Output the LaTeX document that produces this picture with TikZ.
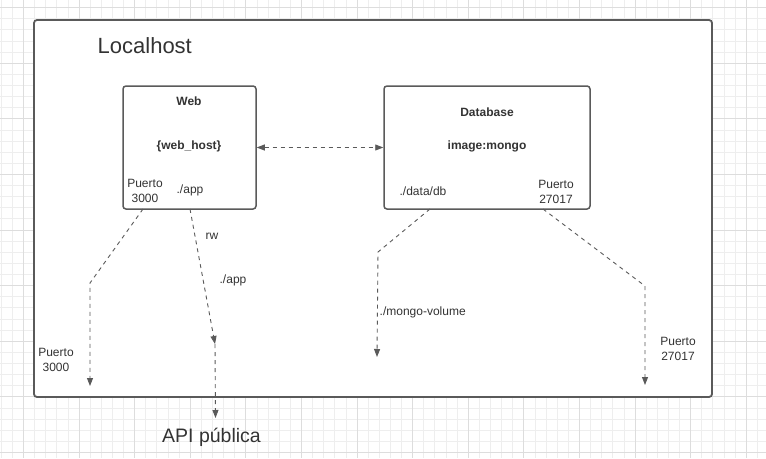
\documentclass[tikz,border=0pt]{standalone}
\usepackage{fontspec}
\setmainfont{Liberation Sans}
\usetikzlibrary{arrows.meta}
\definecolor{linegray}{HTML}{5A5A5A}
\definecolor{textgray}{HTML}{333333}
\definecolor{gridminor}{HTML}{EEEEEE}
\definecolor{gridmajor}{HTML}{DDDDDD}
\begin{document}
\begin{tikzpicture}
[x=1pt,y=-1pt,
 boxdecorate/.style={shape=rectangle,draw=linegray,fill=white,line width=1.5pt,rounded corners=3pt,inner sep=0pt},%
 linedecorate/.style={draw=linegray,line width=0.9pt,dash pattern=on 4pt off 4pt},%
 arrowdecorate/.style={linedecorate,-{Triangle[length=8pt,width=6pt]}},%
 labeldecorate/.style={text=textgray,font=\fontsize{12}{15}\selectfont,align=center,inner sep=0pt},%
 titledecorate/.style={labeldecorate,font=\fontsize{12}{15}\selectfont\bfseries}]
\useasboundingbox (0,0) rectangle (766,458);
%%% background grid
\foreach \i in {0,...,68} \draw[gridminor,line width=0.8pt] ({1.2+\i*11.12},0) -- ({1.2+\i*11.12},458);
\foreach \j in {0,...,40} \draw[gridminor,line width=0.8pt] (0,{7.6+\j*11.12}) -- (766,{7.6+\j*11.12});
\foreach \i in {2,7,...,67} \draw[gridmajor,line width=0.8pt] ({1.2+\i*11.12},0) -- ({1.2+\i*11.12},458);
\foreach \j in {0,5,...,40} \draw[gridmajor,line width=0.8pt] (0,{7.6+\j*11.12}) -- (766,{7.6+\j*11.12});
%
%%% containers
% nodes or boxes
\node (localhost) at (373,208.5) [boxdecorate,line width=1.8pt,minimum width=678pt,minimum height=377pt] {};
\node (title) at (97.5,53.3) [labeldecorate,anchor=base west,font=\fontsize{22}{26}\selectfont] {Localhost};
\node (web) at (189.5,147.5) [boxdecorate,minimum width=133pt,minimum height=123pt] {};
\node (db) at (487,147.5) [boxdecorate,minimum width=206pt,minimum height=123pt] {};
% texts inside the boxes
\node (webname) at (189,101) [titledecorate] {Web};
\node (webhost) at (189,146) [titledecorate] {\{web\_host\}};
\node (webport) at (145,191) [labeldecorate] {Puerto\\3000};
\node (webapp) at (190,190) [labeldecorate] {./app};
\node (dbname) at (487,112) [titledecorate] {Database};
\node (dbimage) at (487,146) [titledecorate] {image:mongo};
\node (dbdata) at (423,191) [labeldecorate] {./data/db};
\node (dbport) at (556,192) [labeldecorate] {Puerto\\27017};
%
%%% connectors
% start points, bends and free ends
\coordinate (webportstart) at (143,209);
\coordinate (webportbend) at (90,283);
\coordinate (webportend) at (90,386);
\coordinate (webappstart) at (190,209);
\coordinate (webappend) at (215,344);
\coordinate (apiend) at (215.5,418);
\coordinate (dbdatastart) at (430,209);
\coordinate (dbdatabend) at (378,252);
\coordinate (dbdataend) at (377,357);
\coordinate (dbportstart) at (543,209);
\coordinate (dbportbend) at (645,286);
\coordinate (dbportend) at (645,385);
% edges or lines
\path
(web.east) edge[linedecorate,{Triangle[length=8pt,width=6pt]}-{Triangle[length=8pt,width=6pt]}] (db.west)
(webappstart) edge[arrowdecorate] (webappend)
(webappend) edge[arrowdecorate] (apiend);
\draw[arrowdecorate] (webportstart) -- (webportbend) -- (webportend);
\draw[arrowdecorate] (dbdatastart) -- (dbdatabend) -- (dbdataend);
\draw[arrowdecorate] (dbportstart) -- (dbportbend) -- (dbportend);
% labels of the lines
\node (rw) at (212,236) [labeldecorate] {rw};
\node (appmount) at (233,280) [labeldecorate] {./app};
\node (hostport) at (56,360) [labeldecorate] {Puerto\\3000};
\node (volume) at (379.5,312) [labeldecorate,anchor=west] {./mongo-volume};
\node (hostdbport) at (678,349) [labeldecorate] {Puerto\\27017};
\node (api) at (211.5,442.7) [labeldecorate,anchor=base,font=\fontsize{19.5}{23}\selectfont] {API pública};
\end{tikzpicture}
\end{document}
